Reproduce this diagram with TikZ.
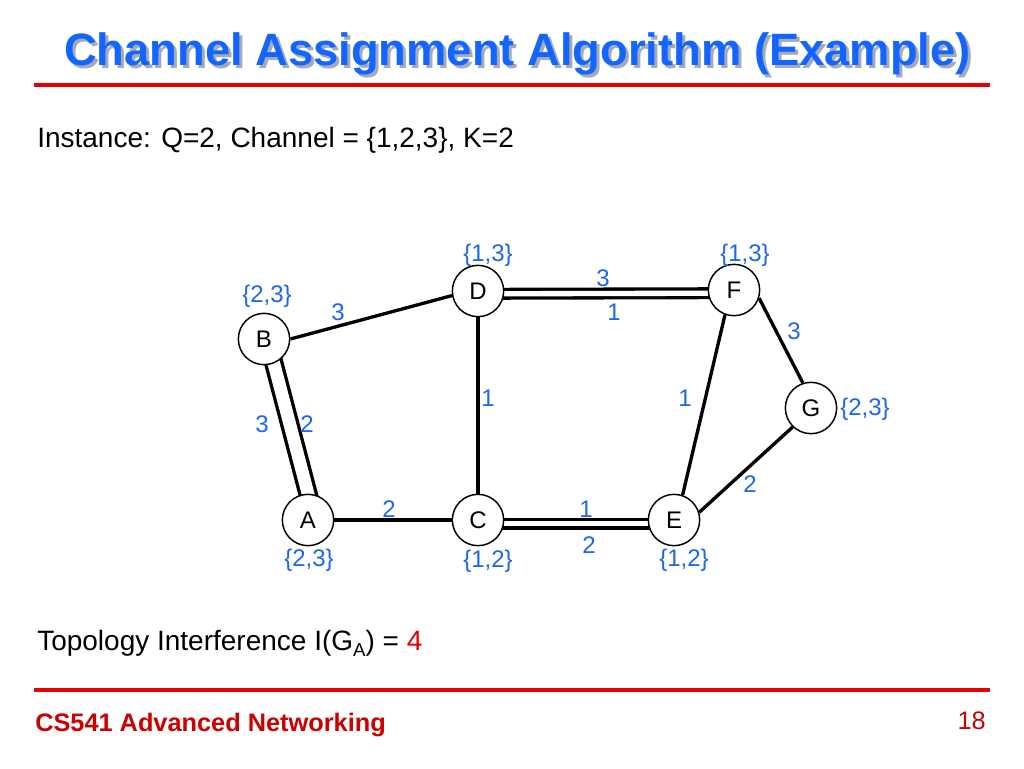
\documentclass[tikz,border=0pt]{standalone}
\usepackage{fontspec}
\setmainfont{Liberation Sans}
\definecolor{titleblue}{RGB}{18,102,255}
\definecolor{lblue}{RGB}{28,104,232}
\definecolor{lred}{RGB}{232,0,0}
\definecolor{fred}{RGB}{204,0,0}
\definecolor{shadowgray}{RGB}{165,170,185}
\pgfdeclarelayer{bg}
\pgfdeclarelayer{edges}
\pgfsetlayers{bg,edges,main}
\newcommand{\shadowtext}[1]{\rlap{\kern2.25pt\raisebox{-2.25pt}{\textcolor{shadowgray}{#1}}}#1}
\begin{document}
\begin{tikzpicture}[x=0.75pt,y=-0.75pt,
  nd/.style={circle,draw,line width=1.1pt,minimum size=38.5pt,inner sep=0pt,fill=white,
             font=\fontsize{18}{18}\selectfont},
  lbl/.style={text=lblue,inner sep=0pt,font=\fontsize{18}{18}\selectfont},
  edge/.style={line width=2.5pt},
  dbl/.style={line width=2.5pt,double=white,double distance=#1,
              shorten <=-9pt,shorten >=-9pt},
  body/.style={inner sep=0pt,font=\fontsize{21}{21}\selectfont},
  rule/.style={lred,line width=3pt}]
\useasboundingbox (0,0) rectangle (1024,768);
\begin{pgfonlayer}{bg}
\fill[white] (0,0) rectangle (1024,768);
\end{pgfonlayer}

% title with shadow
\node (title) [anchor=base,inner sep=0pt,text=titleblue,
  font=\fontsize{34}{34}\selectfont\bfseries] at (517.5,65) {\shadowtext{Channel Assignment Algorithm (Example)}};
\draw[rule] (34,85) -- (990,85);

\node (inst) [body,anchor=base west] at (37,147) {Instance: Q=2, Channel = \{1,2,3\}, K=2};

% nodes
\node[nd] (B) at (264,339) {B};
\node[nd] (D) at (478,291) {D};
\node[nd] (F) at (734,290) {F};
\node[nd] (G) at (811,408) {G};
\node[nd] (A) at (308,520) {A};
\node[nd] (C) at (478,520) {C};
\node[nd] (E) at (674,520) {E};

% edges
\begin{pgfonlayer}{edges}
\draw[edge] (B.east) -- (D.190);
\draw[edge] (D.south) -- (C.north);
\draw[edge] (A.east) -- (C.west);
\draw[edge] (F.250) -- (E.71);
\draw[edge] (F.-18) -- (G.108);
\draw[edge] (G.226) -- (E.17);
\draw[dbl=9.5pt] (B.-68) -- (A.90);
\draw[dbl=4pt] (D.-6) -- (F.187);
\draw[dbl=4pt] (C.-8) -- (E.188);
\end{pgfonlayer}

% channel sets
\node[lbl] (sD) at (488,255) {\{1,3\}};
\node[lbl] (sB) at (267,296) {\{2,3\}};
\node[lbl] (sF) at (745,255) {\{1,3\}};
\node[lbl] (sG) at (865,409) {\{2,3\}};
\node[lbl] (sA) at (309,560) {\{2,3\}};
\node[lbl] (sC) at (488,561) {\{1,2\}};
\node[lbl] (sE) at (684,560) {\{1,2\}};

% edge channels
\node[lbl] (eBD) at (338,312) {3};
\node[lbl] (eDF1) at (603,278) {3};
\node[lbl] (eDF2) at (614,312) {1};
\node[lbl] (eFG) at (794,331) {3};
\node[lbl] (eDC) at (488,398) {1};
\node[lbl] (eFE) at (685,398) {1};
\node[lbl] (eAB1) at (262,424) {3};
\node[lbl] (eAB2) at (307,424) {2};
\node[lbl] (eGE) at (750,484) {2};
\node[lbl] (eAC) at (389,509) {2};
\node[lbl] (eCE1) at (586,509) {1};
\node[lbl] (eCE2) at (589,545) {2};

% interference
\node (topo) [body,anchor=base west] at (37,650)
  {Topology Interference I(G\raisebox{-0.22em}{\fontsize{14}{14}\selectfont A}) = \textcolor{lred}{4}};

% footer
\draw[rule] (34,690) -- (990,690);
\node (foot) [anchor=base west,inner sep=0pt,text=fred,
  font=\fontsize{19}{19}\selectfont\bfseries] at (35,731) {CS541 Advanced Networking};
\node (page) [anchor=base east,inner sep=0pt,text=fred,
  font=\fontsize{19}{19}\selectfont] at (986,729) {18};
\end{tikzpicture}
\end{document}
